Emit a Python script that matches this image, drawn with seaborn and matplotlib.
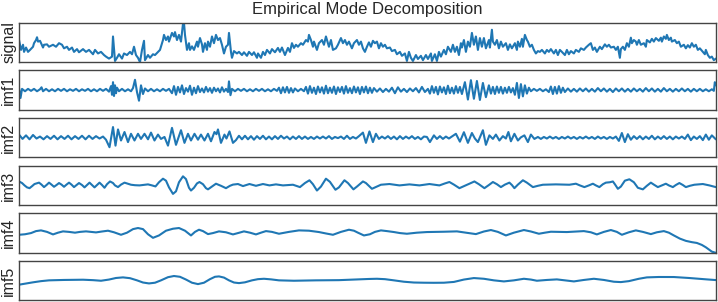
import numpy as np
import seaborn as sns
import matplotlib.pyplot as plt

# (time, value) pairs, time in samples 0..697
signal_pts = [(0,5.6),(2,3.1),(4,4.4),(5,2.6),(7,3.7),(9,2.6),(11,3.1),(14,3.9),(15,4.8),(17,5.6),(18,6.3),(19,5.2),
    (21,5.4),(24,3.7),(25,4.4),(28,4.5),(30,3.9),(34,4.4),(37,3.9),(40,4.8),(43,4.4),(45,3.5),(48,3.9),(50,3.1),
    (53,3.7),(55,2.6),(58,3.3),(60,2.5),(64,3.3),(67,2.6),(70,3.1),(74,2.0),(76,3.1),(79,2.2),(82,2.6),(85,1.8),
    (87,1.4),(90,0.9),(93,1.4),(94,6.5),(96,0.3),(98,1.1),(100,2.0),(103,0.9),(105,2.2),(108,1.8),(111,2.6),(113,2.0),
    (115,3.9),(117,1.8),(119,1.1),(121,0.0),(123,3.1),(125,5.4),(126,0.5),(129,1.8),(131,1.1),(134,2.0),(136,1.8),
    (139,2.6),(141,3.1),(144,5.6),(145,6.9),(147,5.6),(149,6.5),(150,5.2),(153,7.4),(155,6.5),(156,7.6),(158,5.6),
    (160,6.9),(162,5.2),(164,9.7),(165,10.0),(166,6.9),(168,3.1),(170,4.8),(171,3.1),
    (173,4.0),(175,3.1),(178,5.2),(179,3.9),(181,6.1),(183,4.5),(184,2.6),(186,4.8),(188,3.1),(189,5.2),(191,3.9),
    (193,6.5),(195,4.8),(197,6.9),(199,5.6),(201,6.1),(203,4.4),(205,2.2),(207,3.9),(209,4.4),(210,7.4),(212,2.6),
    (213,1.1),(215,2.8),(218,2.2),(220,2.6),(223,1.8),(225,2.5),(228,1.6),(230,2.6),(233,1.8),(235,2.5),(238,1.1),
    (239,2.2),(242,1.1),(244,2.6),(246,1.8),(248,3.1),(251,2.2),(253,3.3),(256,2.5),(259,3.6),(261,2.6),(263,3.7),
    (266,1.8),(269,3.6),(271,2.6),(273,4.8),(275,3.6),(277,4.4),(279,3.9),(282,4.8),(284,4.4),(287,5.6),(289,5.2),
    (290,6.9),(292,5.6),(294,3.9),(295,5.2),(298,3.1),(300,4.8),(303,5.6),(305,4.4),(307,6.5),(309,4.8),(310,3.9),
    (312,5.6),(314,3.1),(317,3.5),(319,4.4),(322,6.1),(324,4.8),(326,5.6),(328,4.4),(330,5.2),(333,3.5),(335,4.8),
    (338,5.6),(340,4.4),(342,5.2),(344,3.5),(346,2.6),
    (348,3.9),(350,5.0),(352,3.9),(354,5.4),(356,4.8),(358,5.2),(360,3.5),(362,4.8),(364,3.9),(366,4.4),(368,3.5),
    (371,3.7),(373,2.8),(376,3.1),(378,2.0),(381,2.6),(383,1.6),(386,2.2),(388,0.3),(390,2.6),(392,1.1),(394,0.3),
    (397,1.8),(399,0.8),(402,1.6),(404,0.5),(407,1.8),(409,0.8),(412,2.2),(413,0.3),(416,2.0),(418,0.3),(420,2.6),
    (422,1.4),(425,3.1),(427,2.0),(429,3.9),(432,2.6),(434,4.4),(436,2.6),(438,3.9),(440,1.8),(442,4.8),(443,3.7),
    (445,5.6),(447,2.6),(449,5.2),(451,3.9),(453,7.4),(455,4.4),(457,6.5),(459,3.1),(461,6.1),(463,3.9),(465,6.1),
    (467,3.5),(470,5.6),(471,3.7),(473,8.2),(474,5.2),(476,4.4),(478,5.6),(480,3.5),(482,5.2),(484,3.9),(487,4.8),
    (489,3.1),(491,4.5),(493,3.5),(496,4.8),(498,3.1),(499,5.2),(501,3.9),(503,5.9),(504,3.9),(506,6.9),(508,5.6),
    (509,5.2),(511,3.9),(513,4.4),(515,3.1),(517,2.2),(519,2.8),
    (521,2.6),(523,3.1),(526,2.2),(528,3.1),(530,2.6),(532,3.3),(535,2.2),(537,3.1),(539,1.8),(541,3.1),(543,2.6),
    (546,1.8),(548,3.1),(550,2.0),(552,2.8),(555,2.2),(557,3.1),(560,2.6),(562,3.5),(565,3.1),(567,3.7),(570,4.4),
    (572,4.8),(574,3.1),(576,3.7),(578,2.6),(581,3.9),(583,3.3),(586,4.5),(588,3.9),(590,4.4),(592,3.7),(595,3.9),
    (597,3.1),(599,3.9),(601,1.1),(602,3.3),(604,3.9),(606,3.1),(608,4.8),(610,3.9),(612,6.2),(613,4.8),(615,5.6),
    (617,5.2),(618,4.4),(620,5.6),(622,4.4),(625,4.8),(627,3.9),(628,5.6),(631,5.0),(633,5.9),(635,5.2),(637,6.1),
    (640,5.4),(642,6.2),(643,5.2),(645,6.5),(647,5.9),(648,6.9),(650,5.6),(652,6.2),(653,5.2),(656,5.6),(658,4.8),
    (660,5.2),(662,3.9),(665,4.4),(667,3.5),(669,4.3),(671,3.7),(673,4.8),(675,3.9),(677,4.4),(679,3.1),(681,3.5),
    (684,2.6),(686,2.0),(687,3.1),(689,1.8),(691,1.1),(693,1.4),(695,0.5),(697,0.9)]

imf1_pts = [(0,0.5),(1.5,-2.0),(3,0.3),(6,-0.3),(9,0.3),(12,-0.2),(15,0.3),(18,-0.3),(21,0.2),(22.5,0.7),(24,-0.3),
    (27,0.3),(30,-0.3),(33,0.2),(36,-0.3),(39,0.3),(42,-0.2),(45,0.3),(48,-0.3),(51,0.2),(54,-0.2),(57,0.3),(60,-0.3),
    (63,0.2),(66,-0.2),(69,0.3),(72,-0.3),(75,0.2),(78,-0.3),(81,0.3),(84,-0.2),(87,0.3),(90,-0.4),
    (92,1.0),(93,-1.2),(94,2.0),(95,-1.5),(96,1.2),(97,-0.8),(98,0.6),(100,-0.3),(103,0.3),(106,-0.3),(109,0.2),(112,-0.3),
    (114,0.5),(116,2.6),(118,-0.5),(120,-2.7),(122,1.2),(124,-1.0),(126,0.4),(129,-0.3),(132,0.3),(135,-0.3),(138,0.2),
    (141,-0.3),(144,0.3),(147,-0.2),(150,0.3),
    (153,-0.8),(155,1.0),(157,-1.2),(159,0.8),(161,-0.6),(163,1.2),(165,-1.0),(167,0.5),(169,-0.4),(171,1.1),(173,-1.2),
    (175,0.6),(177,-0.8),(179,1.0),(181,-0.5),(183,0.4),(185,-0.6),(187,0.8),(189,-0.4),(191,0.5),(193,-0.7),(195,0.6),
    (197,-0.3),(199,0.4),(201,-0.6),(203,0.7),(205,-0.4),(207,0.3),(209,-0.5),(210,2.2),(211.5,-1.3),(213,0.3),
    (216,-0.3),(219,0.3),(222,-0.2),(225,0.3),(228,-0.3),(231,0.2),(234,-0.3),(237,0.3),(240,-0.2),(243,0.3),(246,-0.3),
    (249,0.2),(252,-0.3),(255,0.3),(258,-0.2),
    (260,0.6),(262,-0.8),(264,0.7),(266,-0.6),(268,0.8),(270,-0.7),(272,0.5),(274,-0.6),(276,0.4),(279,-0.3),(282,0.3),(285,-0.3),
    (287,0.8),(289,-0.9),(291,1.0),(293,-0.7),(295,0.6),(297,-1.0),(299,0.9),(301,-0.6),(303,0.7),(305,-0.9),(307,1.1),
    (309,-0.8),(311,0.6),(313,-0.7),(315,0.9),(317,-1.0),(319,0.7),(321,-0.5),(323,0.8),(325,-0.9),(327,1.0),(329,-0.7),
    (331,0.5),(333,-0.8),(335,0.9),(337,-0.6),(339,0.7),(341,-1.0),(343,0.8),(345,-0.6),(347,0.9),(349,-0.8),(351,0.6),
    (353,-0.7),(355,0.5),
    (358,-0.4),(361,0.4),(364,-0.5),(367,0.3),(370,-0.4),(373,0.6),(376,-0.8),(379,0.7),(382,-0.4),(385,0.3),(388,-0.5),
    (391,0.4),(394,-0.3),(397,0.5),(400,-0.6),(403,0.8),(406,-0.5),(409,0.3),
    (411,-0.9),(413,1.0),(415,-0.7),(417,0.8),(419,-1.1),(421,0.9),(423,-0.6),(425,0.7),(427,-1.0),(429,1.1),(431,-0.8),
    (433,0.6),(435,-0.9),(437,1.0),(439,-0.7),(441,0.8),
    (443,-1.0),(446,2.0),(449,-2.4),(452,2.5),(455,-2.2),(458,2.3),(461,-2.5),(464,1.8),(467,-1.8),(470,1.2),
    (472,-0.9),(474,0.8),(476,-1.0),(478,0.9),(480,-0.7),(482,0.8),(484,-0.9),(486,0.6),(488,-0.7),(490,0.8),(492,-0.6),(494,0.5),
    (496,-1.2),(498,1.8),(500,-2.0),(502,1.5),(504,-1.6),(506,1.2),(508,-0.9),(510,0.6),
    (512,-0.3),(515,0.3),(518,-0.2),(521,0.3),(524,-0.3),(527,0.2),(530,-0.5),(532,0.9),(534,-1.0),(536,0.8),(538,-0.9),
    (540,1.0),(542,-0.7),(544,0.6),(546,-0.5),
    (549,0.4),(552,-0.4),(555,0.3),(558,-0.4),(561,0.4),(564,-0.3),(567,0.4),(570,-0.4),(573,0.3),(576,-0.4),(579,0.5),
    (582,-0.3),(585,0.4),(588,-0.4),(591,0.3),(594,-0.5),(597,0.4),(600,-0.3),(603,0.4),(606,-0.4),(609,0.3),(612,-0.4),
    (615,0.4),(618,-0.3),(621,0.3),(624,-0.4),(627,0.5),(630,-0.3),(633,0.4),(636,-0.4),(639,0.3),(642,-0.4),(645,0.5),
    (648,-0.3),(651,0.3),(654,-0.4),(657,0.3),(660,-0.3),(663,0.4),(666,-0.3),(669,0.3),(672,-0.4),(675,0.3),(678,-0.3),
    (681,0.3),(684,-0.3),(687,0.2),(690,-0.3),(693,0.2),(695,-0.2),(696,2.0),(697,1.2)]

imf2_pts = [(0,0.8),(3.5,-0.3),(7,0.6),(10.5,-0.4),(14,0.7),(17.5,-0.2),(21,0.3),(24.5,-0.4),(28,0.4),(31.5,-0.3),
    (35,0.5),(38.5,-0.4),(42,0.4),(45.5,-0.3),(49,0.5),(52.5,-0.4),(56,0.4),(59.5,-0.3),(63,0.5),(66.5,-0.4),(70,0.5),
    (73.5,-0.3),(77,0.4),(80.5,-0.2),(84,0.3),(87,-0.5),
    (90.5,-2.4),(94,2.7),(96.5,-2.0),(99,2.1),(102,-0.7),(105.5,1.45),(109,-1.1),(112,1.0),(115.5,-0.7),(119,1.0),
    (122,-0.3),(125.5,1.0),(129,-0.4),(132,1.3),(135.5,-0.7),(139,0.8),(142,-0.3),(145.5,0.2),
    (149,-2.0),(153,2.5),(157,-1.8),(162,1.9),(165.5,-1.3),(169,1.0),(172,-0.7),(175.5,1.0),(179,-0.5),(182,0.8),
    (185.5,-0.7),(189,1.0),(192,-0.9),(195.5,1.45),(197.5,0.9),(199,2.1),(202,-1.3),(205.5,0.8),(207.5,-0.2),
    (210.5,1.6),(214,-1.3),(217,-0.6),(220,0.5),
    (223,-0.4),(226,0.5),(229,-0.4),(232,0.4),(235,-0.5),(238,0.4),(241,-0.3),(244,0.5),(247,-0.4),(250,0.3),(253,-0.4),
    (256,0.4),(259,-0.3),(262,0.5),(265,-0.2),(268,0.3),(271,-0.4),(274,0.3),(277,-0.3),(280,0.4),(283,-0.3),(286,0.3),
    (289,-0.3),(292,0.2),(295,-0.3),(298,0.3),(301,-0.2),(304,0.3),(307,-0.2),(310,0.4),(313,-0.3),(316,0.2),(319,-0.1),
    (322,0.3),(325,-0.3),(328,0.5),(331,-0.3),(334,0.2),(337,-0.2),(340,0.4),
    (344,1.3),(347,-1.3),(350.5,1.6),(354,-1.1),(357,1.0),(360,-0.3),(363,0.3),(366,-0.2),(369,0.4),(372,-0.3),(375,0.3),
    (378,-0.4),(381,0.4),(384,-0.3),(387,0.3),(390,-0.2),(393,0.4),(396,-0.3),(399,0.2),(402,-0.4),(405,0.3),(408,0.2),
    (411,-1.1),(415,0.6),(418,-0.3),(421,0.4),(424,-0.3),(427,0.3),(430,-0.2),(433,0.3),
    (437,1.0),(441,-1.0),(445,1.4),(449,-1.3),(453,1.2),(456,-0.2),(459,-1.1),(464,1.9),(467,-1.8),(470.5,0.6),(474,-0.3),
    (477,0.8),(480.5,-0.7),(484,0.4),(487,-0.2),(489.5,1.45),(492,-0.9),(495.5,1.0),(499,-0.7),(502,0.1),(505.5,0.6),
    (509,-1.1),(512,0.8),(515.5,-0.3),(519,0.2),
    (522,-0.3),(525,0.2),(528,-0.2),(531,0.3),(534,-0.2),(537,0.2),(540,-0.3),(543,0.2),(546,-0.2),(549,0.3),(552,-0.2),
    (555,0.2),(558,-0.3),(561,0.2),(564,-0.2),(567,0.3),(570,-0.2),(573,0.2),(576,-0.3),(579,0.3),(582,-0.2),(585,0.2),
    (588,-0.3),(591,0.2),(594,-0.2),(597,0.3),
    (600,-0.8),(603,1.2),(606,-1.1),(609,0.9),(612,-0.5),(615,0.4),(618,-0.3),(621,0.4),(624,-0.4),(627,0.3),(630,-0.3),
    (633,0.5),(636,-0.4),(639,0.3),(642,-0.3),(645,0.4),(648,-0.3),(651,0.3),(654,-0.4),(657,0.3),(660,-0.2),(663,0.3),
    (666,-0.3),(669,0.8),(672,-0.6),(675,0.3),(678,-0.3),(681,0.4),(684,-0.6),(687,0.8),(690,-0.5),(693,0.6),(697,-0.4)]

imf3_pts = [(0,1.0),(3,0.6),(5.5,0),(8,-0.5),(10.5,-0.7),(13,-0.2),(15.5,0.35),(20,0.7),(22.5,0.2),(25,-0.43),
    (27.5,0.1),(30,0.7),(32.5,0.2),(35,-0.35),(37.5,0.1),(40,0.6),(42.5,0.2),(45,-0.35),(47.5,0.2),(50,0.7),(52.5,0.2),
    (55,-0.43),(57.5,0.1),(60,0.6),(63,0.1),(65.5,-0.5),(68,0.1),(70.5,0.7),(73,0.1),(75.5,-0.5),(78,0.1),(80.5,0.7),
    (83,0.1),(85.5,-0.6),(88,0.3),(91,1.0),(94,0.6),(96,0.0),(99,-0.43),(102,0.2),(105.5,0.7),(109,0.4),(112,0.17),
    (116,0.05),(120.5,0),(125,0.15),(129,0.26),(133,0.0),(136.5,-0.26),(140,0.8),(144,1.7),(147,1.2),(150,-0.5),
    (154,-2.15),(157,-1.5),(160,0.8),(164,2.3),(167,1.6),(170,-0.6),(172,-1.3),(175,-0.6),(178,0.5),(180.5,0.86),
    (184,0.3),(187,-0.7),(189,-1.0),(193,-0.3),(197,0.43),(202,-0.1),(207,-0.7),(211,-0.1),(214,0.2),(219,0.35),
    (224,-0.17),(230.5,0.35),(237,-0.1),(244,0.35),(250.5,0),(257,0.26),(264,0),(274,0.17),(281,-0.43),(286,0.6),
    (290.5,1.3),(294,0.3),(298,-1.3),(302,-0.3),(307,1.7),(311,0.9),(316.5,-1.1),(320,-0.5),(325.5,1.3),(329,0.6),
    (334.5,-1.0),(338,-0.3),(344,1.0),(347,0.6),(353,-0.86),(357,-0.4),(362,0.17),(370.5,0.35),(380.5,0),(390.5,0.26),
    (400.5,0),(410.5,0.35),(420.5,0),(426,0.5),(430.5,0.86),(435,0.2),(440.5,-0.7),(445,-0.2),(450.5,0.43),(455.5,1.0),
    (460,0.3),(465.5,-0.7),(470,0.1),(474,0.86),(478,0.3),(482,-0.43),(486,0.2),(490.5,0.7),(493,0.1),(495.5,-0.7),
    (499,0.2),(504,1.3),(508,0.7),(514,-0.43),(519,-0.1),(524,0.17),(537,0.26),(550.5,0.17),(557,0.43),(561,0.0),
    (565.5,-0.43),(570,0.0),(574,0.43),(577,0.0),(580.5,-0.43),(584,0.3),(587,0.7),(591,0.8),(594,1.0),(596,0.3),
    (599,-0.86),(602,-0.3),(606,1.2),(610.5,1.55),(615,0.8),(619,-0.6),(624,-1.0),(628,-0.1),(632,0.7),(635,0.2),
    (639,-0.43),(643,0.0),(647,0.43),(650,0.0),(654,-0.43),(657,0.1),(660.5,0.6),(664,0.1),(667,-0.43),(671,-0.1),
    (675.5,0.17),(684,0.35),(690.5,0),(697,-0.43)]

imf4_pts = [(0,-0.43),(6,-0.3),(12,0),(17,0.5),(22,0.68),(28,0.3),(34,-0.34),(39,0.1),(44,0.43),(50,0.3),(56,0.1),
    (61,0.3),(67,0.43),(72,0.3),(77,0.17),(83,0.4),(89,0.6),(95,0.2),(102,-0.43),(108,0.1),(114,1.0),(119,1.28),
    (124,1.0),(129,-0.3),(134,-1.2),(140,-0.6),(147,0.6),(154,1.1),(160,1.28),(166,0.6),(172,-0.6),(176,0.3),(180,0.85),
    (184,0.5),(189,-0.26),(194,0.0),(200,0.43),(207,0.2),(214,-0.34),(219,0.0),(225,0.43),(231,0.1),(237,-0.34),
    (242,0.1),(247,0.5),(253,0.3),(260,-0.17),(270,0.3),(280,0.68),(290,0.6),(300,0.26),(307,-0.1),(314,-0.43),
    (322,0.3),(330,0.85),(335,0.6),(339,0.1),(345,-0.6),(351,-0.3),(356,0.3),(362,0.68),(368,0.5),(375,0.26),(381,0.0),
    (388,-0.17),(398,0.1),(408,0.26),(425,0.34),(438,0.43),(447,0.1),(457,-0.26),(465,0.4),(472,0.77),(479,0.3),
    (487,-0.6),(495,0.1),(505,0.77),(512,0.4),(520,-0.17),(526,0.1),(532,0.34),(548,0.26),(565,0.5),(572,0.2),
    (578,-0.34),(585,0.3),(592,0.77),(598,0.3),(603,-0.43),(610,0.2),(617,0.68),(624,0.3),(632,-0.26),(638,0.2),
    (645,0.5),(650,0.1),(655,-0.6),(661,-1.4),(667,-1.97),(673,-2.3),(678,-2.5),(683,-3.0),(687,-3.6),(693,-4.7),
    (697,-5.0)]

imf5_pts = [(0,-1.0),(7,-0.7),(14,-0.4),(22,-0.1),(30,0.1),(45,0.2),(64,0.26),(74,0.15),(82,0.0),(90,0.3),(97,0.7),
    (104,0.85),(111,0.65),(118,0.1),(124,-0.45),(130,-0.68),(136,-0.5),(142,0.1),(149,0.9),(155,1.2),(161,1.0),
    (167,0.3),(173,-0.5),(179,-0.85),(185,-0.5),(191,0.4),(196,1.0),(200,1.1),(205,0.8),(210,0.1),(215,-0.45),
    (220,-0.6),(226,-0.4),(233,0.1),(239,0.4),(245,0.5),(252,0.35),(260,0.1),(275,0.0),(297,0.1),(320,0.15),(339,0.34),
    (350,0.45),(358,0.5),(366,0.4),(375,0.1),(385,-0.25),(395,-0.45),(405,-0.5),(415,-0.52),(425,-0.5),(435,-0.3),
    (445,0.3),(455,0.68),(465,0.5),(475,0.1),(485,-0.17),(495,0.1),(505,0.5),(512,0.3),(518,0),(528,0.2),(538,0.34),
    (546,0.1),(555,-0.17),(565,0.2),(575,0.5),(585,0.2),(595,-0.25),(602,-0.34),(610,-0.1),(620,0.5),(628,0.85),
    (640,0.95),(655,0.94),(670,0.7),(688,0.34),(697,0.17)]

names = ["signal", "imf1", "imf2", "imf3", "imf4", "imf5"]
series = [signal_pts, imf1_pts, imf2_pts, imf3_pts, imf4_pts, imf5_pts]

sns.set_style("white")
plt.rcParams['font.family'] = ['Liberation Sans', 'DejaVu Sans']

fig, axes = plt.subplots(6, 1, figsize=(7.18, 3.02), dpi=100)
fig.subplots_adjust(left=0.0265, right=0.997, top=0.925, bottom=0.005, hspace=0.207)

imf_lim = max(abs(v) for pts in series[1:] for _, v in pts)

for ax, name, pts in zip(axes, names, series):
    t, v = zip(*pts)
    sns.lineplot(x=list(t), y=list(v), ax=ax, color="#1f77b4", linewidth=1.5, estimator=None)
    ax.set_xlim(0, 697)
    if name == "signal":
        ax.set_ylim(min(v), max(v))
    else:
        ax.set_ylim(-imf_lim, imf_lim)
    ax.set_xticks([])
    ax.set_yticks([])
    ax.set_ylabel(name, fontsize=11.5, labelpad=2)
    for s in ax.spines.values():
        s.set_color("#444444")
        s.set_linewidth(1.0)

axes[0].set_title("Empirical Mode Decomposition", fontsize=12, pad=6)

fig.savefig("out.png", dpi=100)
